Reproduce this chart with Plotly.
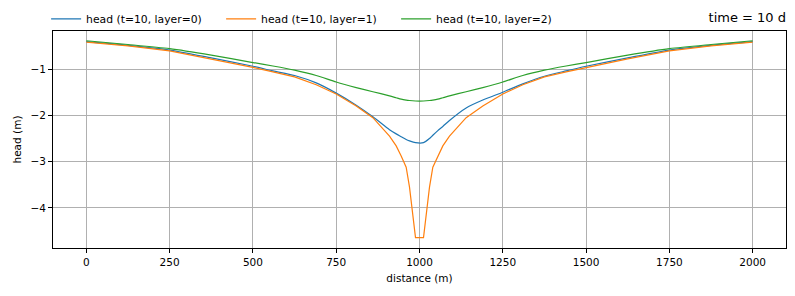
import plotly.graph_objects as go

distance = [0, 125, 250, 375, 500, 560, 625, 690, 750, 810, 860, 910, 930, 945, 960, 970, 988,
            1012, 1030, 1040, 1055, 1070, 1090, 1140, 1190, 1250, 1310, 1375, 1440, 1500, 1625, 1750, 1875, 2000]

head_layer0 = [-0.41, -0.49, -0.59, -0.76, -0.94, -1.04, -1.14, -1.30, -1.52, -1.78, -2.03, -2.31, -2.40,
               -2.46, -2.52, -2.55, -2.59,
               -2.59, -2.50, -2.43, -2.33, -2.24, -2.11, -1.84, -1.67, -1.50, -1.32, -1.155, -1.04,
               -0.94, -0.76, -0.59, -0.49, -0.41]

head_layer1 = [-0.42, -0.50, -0.61, -0.78, -0.965, -1.06, -1.17, -1.34, -1.54, -1.80, -2.05, -2.45, -2.66,
               -2.88, -3.12, -3.55, -4.64,
               -4.64, -3.55, -3.12, -2.88, -2.66, -2.45, -2.05, -1.80, -1.54, -1.34, -1.17, -1.06,
               -0.965, -0.78, -0.61, -0.50, -0.42]

head_layer2 = [-0.39, -0.47, -0.56, -0.70, -0.86, -0.935, -1.025, -1.14, -1.28, -1.40, -1.49, -1.58, -1.62,
               -1.65, -1.67, -1.68, -1.69,
               -1.69, -1.68, -1.67, -1.65, -1.62, -1.58, -1.49, -1.40, -1.28, -1.14, -1.025, -0.935,
               -0.86, -0.70, -0.56, -0.47, -0.39]

series = [
    ("head (t=10, layer=0)", head_layer0, "#1f77b4", "spline"),
    ("head (t=10, layer=1)", head_layer1, "#ff7f0e", "linear"),
    ("head (t=10, layer=2)", head_layer2, "#2ca02c", "spline"),
]

x_ticks = [0, 250, 500, 750, 1000, 1250, 1500, 1750, 2000]
y_ticks = [-1, -2, -3, -4]

FONT = "DejaVu Sans"

fig = go.Figure()
for name, vals, color, shape in series:
    line = dict(color=color, width=1.2, shape=shape)
    if shape == "spline":
        line["smoothing"] = 0.7
    fig.add_trace(go.Scatter(x=distance, y=vals, mode="lines", name=name, line=line))

axis_common = dict(
    showline=True, linecolor="black", linewidth=1, mirror=True,
    showgrid=True, gridcolor="#b0b0b0", gridwidth=1,
    ticks="outside", ticklen=4, tickcolor="black", tickwidth=1,
    zeroline=False, tickfont=dict(family=FONT, size=10.5, color="black"),
)

fig.update_layout(
    width=795, height=296,
    margin=dict(l=53, r=9, t=31, b=48, autoexpand=False),
    paper_bgcolor="white", plot_bgcolor="white",
    font=dict(family=FONT, size=10.5, color="black"),
    showlegend=True,
    legend=dict(orientation="h", xref="container", yref="container",
                x=0.058, y=0.936, xanchor="left", yanchor="middle",
                font=dict(family=FONT, size=10.8, color="black"),
                entrywidth=130, entrywidthmode="pixels",
                bgcolor="rgba(0,0,0,0)", traceorder="normal"),
    title=dict(text="time = 10 d", xref="paper", x=1, xanchor="right",
               yref="container", y=0.9426, yanchor="middle",
               font=dict(family=FONT, size=13, color="black")),
)

fig.update_xaxes(range=[-100, 2100], tickvals=x_ticks,
                 title=dict(text="distance (m)", font=dict(family=FONT, size=10.5), standoff=8),
                 **axis_common)
fig.update_yaxes(range=[-4.864, -0.179], tickvals=y_ticks,
                 ticktext=["\u22121", "\u22122", "\u22123", "\u22124"],
                 title=dict(text="head (m)", font=dict(family=FONT, size=10.5), standoff=6),
                 **axis_common)

fig.write_html("out.html")
